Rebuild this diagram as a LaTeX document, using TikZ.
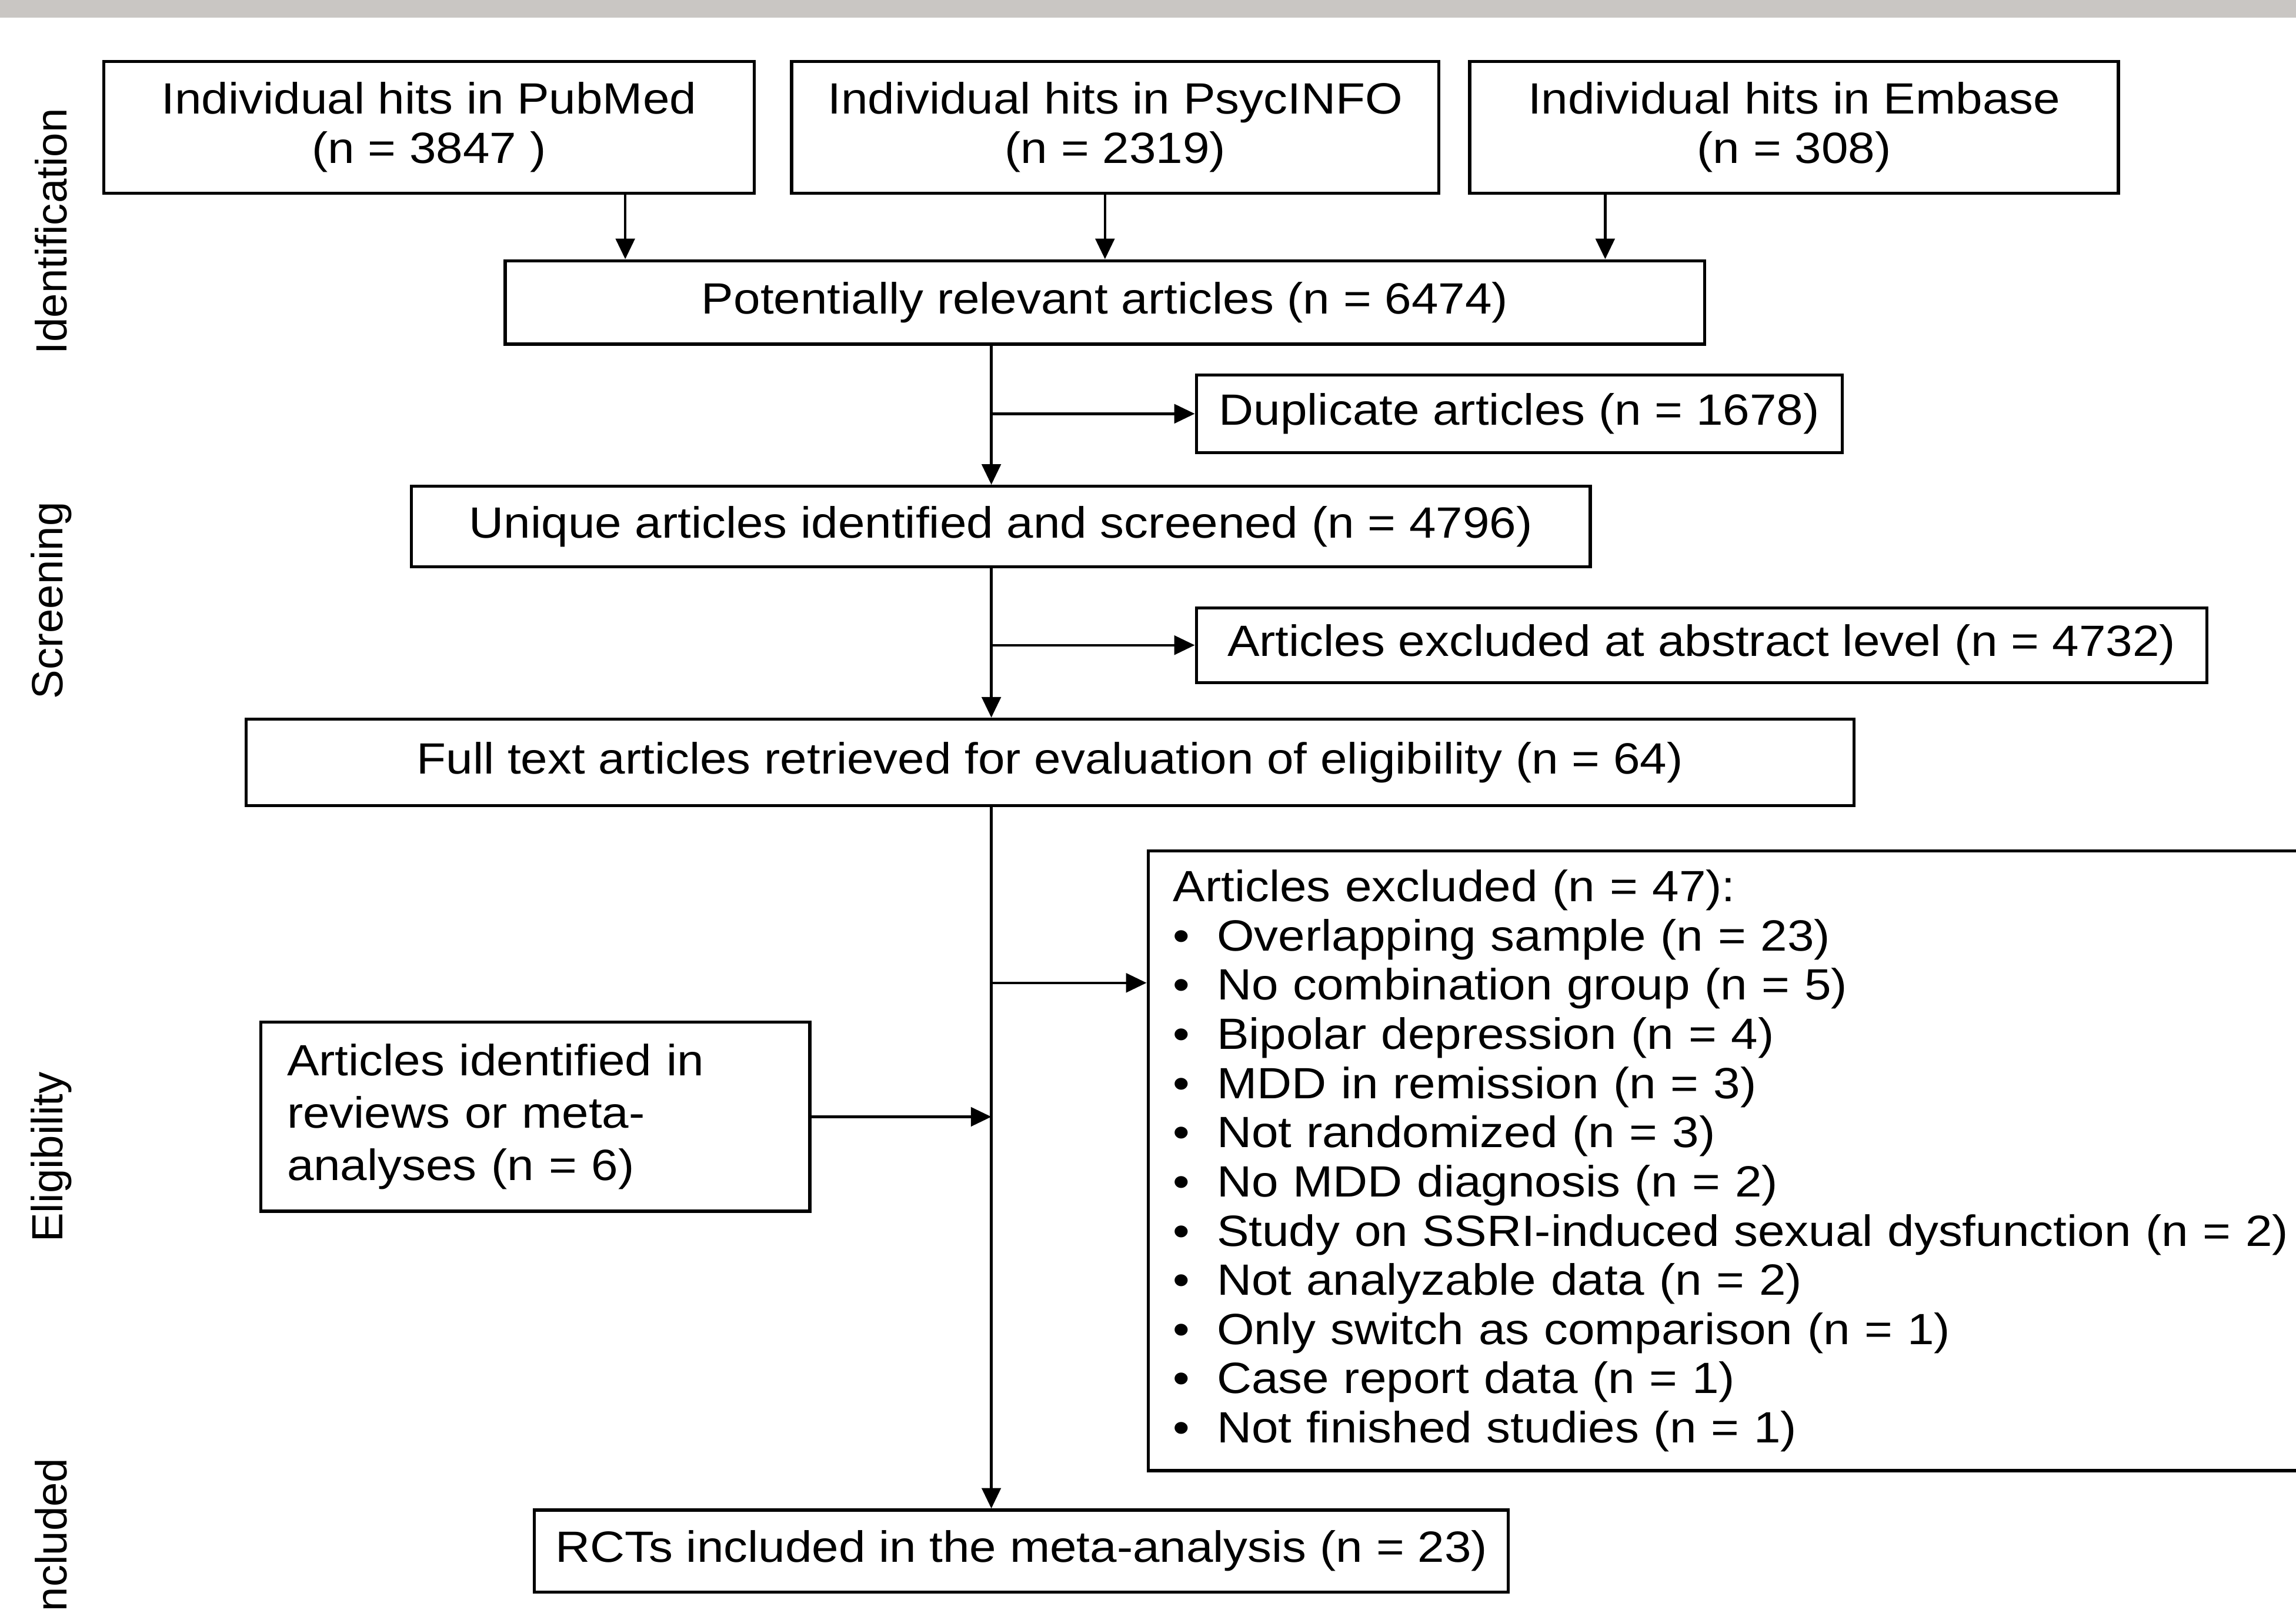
\documentclass[tikz,border=0pt]{standalone}
\usepackage{fontspec}
\setmainfont{Liberation Sans}[FakeStretch=1.1]
\newfontfamily\sidefont{Liberation Sans}
\usetikzlibrary{positioning}
\usetikzlibrary{arrows.meta}
\definecolor{bandgray}{RGB}{201,198,195}
\newcommand{\exitem}[1]{\makebox[0.3cm][l]{\textbullet}#1}

\begin{document}
\begin{tikzpicture}[
    box/.style={draw, line width=0.6pt, align=center, inner sep=0pt},
    phase/.style={rotate=90, font=\sidefont\fontsize{8.5}{9.6}\selectfont},
    arr/.style={-{Triangle[length=1.4mm,width=1.3mm]}, line width=0.5pt},
    font=\fontsize{8.5}{9.6}\selectfont
    ]
    \useasboundingbox (0,0) rectangle (15.68,-11.01);
    \fill[bandgray] (0,0) rectangle (15.68,-0.12);

    %Phases
    \node[phase] (ident) at (0.35,-1.58) {Identification};
    \node[phase] (screen) at (0.35,-4.10) {Screening};
    \node[phase] (elig) at (0.35,-7.90) {Eligibility};
    \node[phase] (incl) at (0.35,-10.52) {Included};

    %Nodes
    \node[box, minimum width=4.44cm, minimum height=0.90cm] (pubmed) at (2.93,-0.87) {Individual hits in PubMed\\(n = 3847 )};
    \node[box, minimum width=4.42cm, minimum height=0.90cm] (psyc) [right=0.235cm of pubmed] {Individual hits in PsycINFO\\(n = 2319)};
    \node[box, minimum width=4.43cm, minimum height=0.90cm] (embase) [right=0.19cm of psyc] {Individual hits in Embase\\(n = 308)};

    \node[box, minimum width=8.19cm, minimum height=0.57cm] (relevant) at (7.545,-2.065) {Potentially relevant articles (n = 6474)};
    \node[box, minimum width=4.41cm, minimum height=0.53cm] (duplicate) at (10.375,-2.825) {Duplicate articles (n = 1678)};
    \node[box, minimum width=8.05cm, minimum height=0.55cm] (unique) at (6.835,-3.595) {Unique articles identified and screened (n = 4796)};
    \node[box, minimum width=6.90cm, minimum height=0.51cm] (abstract) at (11.62,-4.405) {Articles excluded at abstract level (n = 4732)};
    \node[box, minimum width=10.98cm, minimum height=0.59cm] (full) at (7.17,-5.205) {Full text articles retrieved for evaluation of eligibility (n = 64)};

    \node[box, align=left, anchor=north west, text width=7.7cm, inner xsep=0.17cm, minimum height=4.23cm,
          font=\fontsize{8.5}{9.56}\selectfont] (excluded) at (7.83,-5.80) {Articles excluded (n = 47):\\
        \exitem{Overlapping sample (n = 23)}\\
        \exitem{No combination group (n = 5)}\\
        \exitem{Bipolar depression (n = 4)}\\
        \exitem{MDD in remission (n = 3)}\\
        \exitem{Not randomized (n = 3)}\\
        \exitem{No MDD diagnosis (n = 2)}\\
        \exitem{Study on SSRI-induced sexual dysfunction (n = 2)}\\
        \exitem{Not analyzable data (n = 2)}\\
        \exitem{Only switch as comparison (n = 1)}\\
        \exitem{Case report data (n = 1)}\\
        \exitem{Not finished studies (n = 1)}};

    \node[box, align=left, text width=3.39cm, inner xsep=0.18cm, minimum height=1.29cm,
          font=\fontsize{8.5}{10.2}\selectfont] (reviews) at (3.655,-7.625) {Articles identified in\\reviews or meta-\\analyses (n = 6)};

    \node[box, minimum width=6.65cm, minimum height=0.56cm] (rct) at (6.975,-10.59) {RCTs included in the meta-analysis (n = 23)};

    %Lines
    \coordinate (spine) at (6.77,0);
    \coordinate (exclin) at ([yshift=1.215cm]excluded.west);
    \draw[arr] ([xshift=1.34cm]pubmed.south) -- ([xshift=1.34cm]pubmed.south |- relevant.north);
    \draw[arr] ([xshift=-0.07cm]psyc.south) -- ([xshift=-0.07cm]psyc.south |- relevant.north);
    \draw[arr] ([xshift=-1.29cm]embase.south) -- ([xshift=-1.29cm]embase.south |- relevant.north);

    \draw[arr] (relevant.south -| spine) -- (unique.north -| spine);
    \draw[arr] (spine |- duplicate.west) -- (duplicate.west);
    \draw[arr] (unique.south -| spine) -- (full.north -| spine);
    \draw[arr] (spine |- abstract.west) -- (abstract.west);
    \draw[arr] (full.south -| spine) -- (rct.north -| spine);
    \draw[arr] (spine |- exclin) -- (exclin);
    \draw[arr] (reviews.east) -- (reviews.east -| spine);
\end{tikzpicture}
\end{document}
